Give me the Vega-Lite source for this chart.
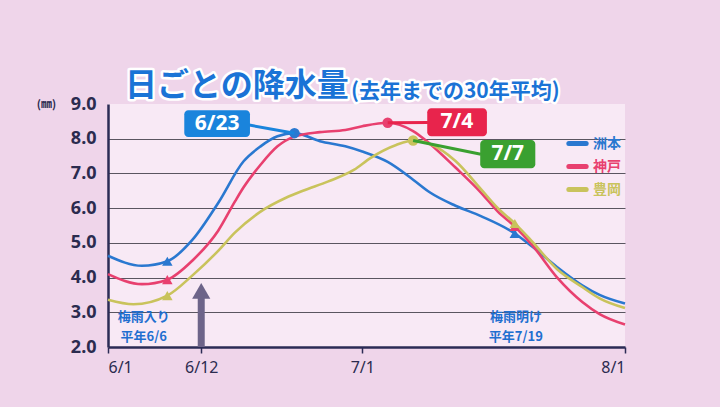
{
  "$schema": "https://vega.github.io/schema/vega-lite/v6.json",
  "width": 517,
  "height": 243,
  "autosize": {"type": "none"},
  "padding": {"left": 108, "top": 104, "right": 95, "bottom": 60},
  "background": "#efd5ea",
  "config": {"view": {"fill": "#f8e9f5", "stroke": null}, "font": "Noto Sans CJK JP"},
  "datasets": {
    "lines": [
      {"series": "洲本", "date": "2024-06-01T00:00:00", "value": 4.63},
      {"series": "洲本", "date": "2024-06-05T00:00:00", "value": 4.34},
      {"series": "洲本", "date": "2024-06-08T00:00:00", "value": 4.47},
      {"series": "洲本", "date": "2024-06-11T00:00:00", "value": 5.1},
      {"series": "洲本", "date": "2024-06-14T00:00:00", "value": 6.15},
      {"series": "洲本", "date": "2024-06-17T00:00:00", "value": 7.35},
      {"series": "洲本", "date": "2024-06-19T00:00:00", "value": 7.78},
      {"series": "洲本", "date": "2024-06-21T00:00:00", "value": 8.07},
      {"series": "洲本", "date": "2024-06-23T00:00:00", "value": 8.16},
      {"series": "洲本", "date": "2024-06-26T00:00:00", "value": 7.93},
      {"series": "洲本", "date": "2024-06-29T00:00:00", "value": 7.78},
      {"series": "洲本", "date": "2024-07-01T00:00:00", "value": 7.63},
      {"series": "洲本", "date": "2024-07-04T00:00:00", "value": 7.33},
      {"series": "洲本", "date": "2024-07-07T00:00:00", "value": 6.82},
      {"series": "洲本", "date": "2024-07-09T00:00:00", "value": 6.45},
      {"series": "洲本", "date": "2024-07-12T00:00:00", "value": 6.07},
      {"series": "洲本", "date": "2024-07-15T00:00:00", "value": 5.77},
      {"series": "洲本", "date": "2024-07-19T00:00:00", "value": 5.27},
      {"series": "洲本", "date": "2024-07-21T00:00:00", "value": 4.9},
      {"series": "洲本", "date": "2024-07-24T00:00:00", "value": 4.3},
      {"series": "洲本", "date": "2024-07-27T00:00:00", "value": 3.77},
      {"series": "洲本", "date": "2024-07-29T00:00:00", "value": 3.5},
      {"series": "洲本", "date": "2024-08-01T00:00:00", "value": 3.25},
      {"series": "神戸", "date": "2024-06-01T00:00:00", "value": 4.1},
      {"series": "神戸", "date": "2024-06-05T00:00:00", "value": 3.81},
      {"series": "神戸", "date": "2024-06-08T00:00:00", "value": 3.94},
      {"series": "神戸", "date": "2024-06-11T00:00:00", "value": 4.5},
      {"series": "神戸", "date": "2024-06-14T00:00:00", "value": 5.35},
      {"series": "神戸", "date": "2024-06-16T00:00:00", "value": 6.2},
      {"series": "神戸", "date": "2024-06-17T00:00:00", "value": 6.6},
      {"series": "神戸", "date": "2024-06-19T00:00:00", "value": 7.25},
      {"series": "神戸", "date": "2024-06-21T00:00:00", "value": 7.78},
      {"series": "神戸", "date": "2024-06-23T00:00:00", "value": 8.06},
      {"series": "神戸", "date": "2024-06-26T00:00:00", "value": 8.19},
      {"series": "神戸", "date": "2024-06-29T00:00:00", "value": 8.25},
      {"series": "神戸", "date": "2024-07-01T00:00:00", "value": 8.36},
      {"series": "神戸", "date": "2024-07-04T00:00:00", "value": 8.46},
      {"series": "神戸", "date": "2024-07-07T00:00:00", "value": 8.22},
      {"series": "神戸", "date": "2024-07-09T00:00:00", "value": 7.85},
      {"series": "神戸", "date": "2024-07-12T00:00:00", "value": 7.17},
      {"series": "神戸", "date": "2024-07-15T00:00:00", "value": 6.45},
      {"series": "神戸", "date": "2024-07-17T00:00:00", "value": 5.9},
      {"series": "神戸", "date": "2024-07-19T00:00:00", "value": 5.47},
      {"series": "神戸", "date": "2024-07-21T00:00:00", "value": 4.95},
      {"series": "神戸", "date": "2024-07-24T00:00:00", "value": 4.0},
      {"series": "神戸", "date": "2024-07-27T00:00:00", "value": 3.29},
      {"series": "神戸", "date": "2024-07-29T00:00:00", "value": 2.95},
      {"series": "神戸", "date": "2024-08-01T00:00:00", "value": 2.65},
      {"series": "豊岡", "date": "2024-06-01T00:00:00", "value": 3.36},
      {"series": "豊岡", "date": "2024-06-04T00:00:00", "value": 3.23},
      {"series": "豊岡", "date": "2024-06-08T00:00:00", "value": 3.48},
      {"series": "豊岡", "date": "2024-06-11T00:00:00", "value": 4.07},
      {"series": "豊岡", "date": "2024-06-14T00:00:00", "value": 4.77},
      {"series": "豊岡", "date": "2024-06-16T00:00:00", "value": 5.3},
      {"series": "豊岡", "date": "2024-06-19T00:00:00", "value": 5.9},
      {"series": "豊岡", "date": "2024-06-22T00:00:00", "value": 6.3},
      {"series": "豊岡", "date": "2024-06-24T00:00:00", "value": 6.5},
      {"series": "豊岡", "date": "2024-06-27T00:00:00", "value": 6.77},
      {"series": "豊岡", "date": "2024-06-30T00:00:00", "value": 7.1},
      {"series": "豊岡", "date": "2024-07-02T00:00:00", "value": 7.45},
      {"series": "豊岡", "date": "2024-07-05T00:00:00", "value": 7.82},
      {"series": "豊岡", "date": "2024-07-07T00:00:00", "value": 7.95},
      {"series": "豊岡", "date": "2024-07-09T00:00:00", "value": 7.85},
      {"series": "豊岡", "date": "2024-07-12T00:00:00", "value": 7.36},
      {"series": "豊岡", "date": "2024-07-15T00:00:00", "value": 6.55},
      {"series": "豊岡", "date": "2024-07-17T00:00:00", "value": 6.0},
      {"series": "豊岡", "date": "2024-07-19T00:00:00", "value": 5.56},
      {"series": "豊岡", "date": "2024-07-21T00:00:00", "value": 5.05},
      {"series": "豊岡", "date": "2024-07-24T00:00:00", "value": 4.24},
      {"series": "豊岡", "date": "2024-07-27T00:00:00", "value": 3.72},
      {"series": "豊岡", "date": "2024-07-29T00:00:00", "value": 3.4},
      {"series": "豊岡", "date": "2024-08-01T00:00:00", "value": 3.12}
    ],
    "triangles": [
      {"series": "洲本", "date": "2024-06-08T00:00:00", "value": 4.47},
      {"series": "神戸", "date": "2024-06-08T00:00:00", "value": 3.94},
      {"series": "豊岡", "date": "2024-06-08T00:00:00", "value": 3.48},
      {"series": "洲本", "date": "2024-07-19T00:00:00", "value": 5.27},
      {"series": "神戸", "date": "2024-07-19T00:00:00", "value": 5.47},
      {"series": "豊岡", "date": "2024-07-19T00:00:00", "value": 5.56}
    ],
    "peaks": [
      {"series": "洲本", "date": "2024-06-23T00:00:00", "value": 8.16},
      {"series": "神戸", "date": "2024-07-04T00:00:00", "value": 8.46},
      {"series": "豊岡", "date": "2024-07-07T00:00:00", "value": 7.95}
    ],
    "boxes": [
      {"label": "6/23", "date": "2024-06-10T00:00:00", "date2": "2024-06-17T18:00:00", "value": 8.05, "value2": 8.82, "cdate": "2024-06-13T21:00:00", "cvalue": 8.43, "pdate": "2024-06-17T12:00:00", "pvalue": 8.4, "tdate": "2024-06-23T00:00:00", "tvalue": 8.16},
      {"label": "7/4", "date": "2024-07-08T16:00:00", "date2": "2024-07-15T17:00:00", "value": 8.07, "value2": 8.88, "cdate": "2024-07-12T04:00:00", "cvalue": 8.47, "pdate": "2024-07-08T18:00:00", "pvalue": 8.47, "tdate": "2024-07-04T00:00:00", "tvalue": 8.46},
      {"label": "7/7", "date": "2024-07-14T22:00:00", "date2": "2024-07-21T10:00:00", "value": 7.15, "value2": 7.96, "cdate": "2024-07-18T04:00:00", "cvalue": 7.55, "pdate": "2024-07-15T00:00:00", "pvalue": 7.55, "tdate": "2024-07-07T00:00:00", "tvalue": 7.95}
    ],
    "arrow": [
      {"date": "2024-06-12T00:00:00", "value": 2.0, "value2": 3.45, "head": 3.62}
    ],
    "notes": [
      {"date": "2024-06-05T05:00:00", "value": 2.86, "text": "梅雨入り"},
      {"date": "2024-06-05T05:00:00", "value": 2.3, "text": "平年6/6"},
      {"date": "2024-07-19T03:00:00", "value": 2.86, "text": "梅雨明け"},
      {"date": "2024-07-19T03:00:00", "value": 2.3, "text": "平年7/19"}
    ],
    "titles": [
      {"part": "main", "date": "2024-06-03T00:00:00", "value": 9.02, "text": "日ごとの降水量"},
      {"part": "sub", "date": "2024-06-29T16:00:00", "value": 9.06, "text": "(去年までの30年平均)"}
    ]
  },
  "encoding": {
    "x": {
      "field": "date", "type": "temporal",
      "scale": {"domain": [{"year": 2024, "month": 6, "date": 1}, {"year": 2024, "month": 8, "date": 1}]},
      "axis": {
        "values": [{"year": 2024, "month": 6, "date": 1}, {"year": 2024, "month": 6, "date": 12}, {"year": 2024, "month": 7, "date": 1}, {"year": 2024, "month": 8, "date": 1}],
        "format": "%-m/%-d", "title": null, "grid": false,
        "labelFont": "Noto Sans", "labelFontSize": 16, "labelColor": "#2b2b4f", "labelPadding": 6,
        "tickSize": 6, "tickColor": "#2b2b55", "tickWidth": 1.5,
        "domainColor": "#2b2b55", "domainWidth": 2.5
      }
    },
    "y": {
      "field": "value", "type": "quantitative",
      "scale": {"domain": [2, 9], "nice": false, "zero": false},
      "axis": {
        "values": [2, 3, 4, 5, 6, 7, 8, 9], "format": ".1f",
        "title": "(㎜)", "titleAngle": 0, "titleX": -62, "titleY": 0, "titleAlign": "center", "titleBaseline": "middle",
        "titleFontSize": 11, "titleFontWeight": "bold", "titleColor": "#2b2b4f",
        "labelFont": "Noto Sans", "labelFontSize": 18, "labelFontWeight": "bold", "labelColor": "#2b2b4f", "labelPadding": 12,
        "ticks": false, "grid": true, "gridColor": "#5a5560", "gridWidth": 1,
        "gridOpacity": {"condition": {"test": "datum.value >= 9 || datum.value <= 2", "value": 0}, "value": 1},
        "domainColor": "#2b2b55", "domainWidth": 2.5
      }
    }
  },
  "layer": [
    {
      "data": {"name": "lines"},
      "mark": {"type": "line", "interpolate": "monotone", "strokeWidth": 2.6},
      "encoding": {
        "color": {
          "field": "series", "type": "nominal",
          "scale": {"domain": ["洲本", "神戸", "豊岡"], "range": ["#2a78d0", "#e8406f", "#c9c35c"]},
          "legend": {
            "orient": "none", "legendX": 458, "legendY": 28, "title": null,
            "symbolType": "stroke", "symbolStrokeWidth": 5, "symbolSize": 300,
            "labelFontSize": 14, "labelFontWeight": "bold", "labelFont": "Noto Sans CJK JP",
            "rowPadding": 1, "labelOffset": 4,
            "encode": {
              "labels": {"update": {"fill": {"scale": "color", "field": "value"}}},
              "symbols": {"update": {"strokeCap": {"value": "round"}}}
            }
          }
        }
      }
    },
    {
      "data": {"name": "triangles"},
      "mark": {"type": "point", "shape": "triangle-up", "filled": true, "size": 110, "opacity": 1},
      "encoding": {"color": {"field": "series", "type": "nominal"}}
    },
    {
      "data": {"name": "peaks"},
      "mark": {"type": "point", "shape": "circle", "filled": true, "size": 110, "opacity": 1},
      "encoding": {"color": {"field": "series", "type": "nominal"}}
    },
    {
      "data": {"name": "boxes"},
      "mark": {"type": "rule", "strokeWidth": 3},
      "encoding": {
        "x": {"field": "pdate", "type": "temporal"},
        "y": {"field": "pvalue", "type": "quantitative"},
        "x2": {"field": "tdate"},
        "y2": {"field": "tvalue"},
        "stroke": {"field": "label", "type": "nominal", "scale": {"domain": ["6/23", "7/4", "7/7"], "range": ["#1a84dc", "#e8244c", "#3aa030"]}, "legend": null}
      }
    },
    {
      "data": {"name": "boxes"},
      "mark": {"type": "rect", "cornerRadius": 4},
      "encoding": {
        "x2": {"field": "date2"},
        "y2": {"field": "value2"},
        "fill": {"field": "label", "type": "nominal", "scale": {"domain": ["6/23", "7/4", "7/7"], "range": ["#1a84dc", "#e8244c", "#3aa030"]}, "legend": null}
      }
    },
    {
      "data": {"name": "boxes"},
      "mark": {"type": "text", "color": "white", "fontSize": 21, "fontWeight": "bold", "font": "Noto Sans", "align": "center", "baseline": "middle"},
      "encoding": {
        "x": {"field": "cdate", "type": "temporal"},
        "y": {"field": "cvalue", "type": "quantitative"},
        "text": {"field": "label"}
      }
    },
    {
      "data": {"name": "arrow"},
      "mark": {"type": "rule", "strokeWidth": 7, "color": "#6d6489"},
      "encoding": {"y2": {"field": "value2"}}
    },
    {
      "data": {"name": "arrow"},
      "mark": {"type": "point", "shape": "triangle-up", "filled": true, "size": 330, "color": "#6d6489", "opacity": 1},
      "encoding": {"y": {"field": "head", "type": "quantitative"}}
    },
    {
      "data": {"name": "notes"},
      "mark": {"type": "text", "color": "#1f6fd0", "fontSize": 13, "fontWeight": "bold", "align": "center", "baseline": "middle"},
      "encoding": {"text": {"field": "text"}}
    },
    {
      "data": {"name": "titles"},
      "mark": {"type": "text", "fontWeight": "bold", "align": "left", "baseline": "bottom", "stroke": "white", "strokeWidth": 5, "strokeJoin": "round", "fill": "white"},
      "encoding": {
        "text": {"field": "text"},
        "size": {"field": "part", "type": "ordinal", "scale": {"domain": ["main", "sub"], "range": [32, 21]}, "legend": null}
      }
    },
    {
      "data": {"name": "titles"},
      "mark": {"type": "text", "fontWeight": "bold", "align": "left", "baseline": "bottom", "color": "#1a73d6"},
      "encoding": {
        "text": {"field": "text"},
        "size": {"field": "part", "type": "ordinal", "scale": {"domain": ["main", "sub"], "range": [32, 21]}, "legend": null}
      }
    }
  ]
}
